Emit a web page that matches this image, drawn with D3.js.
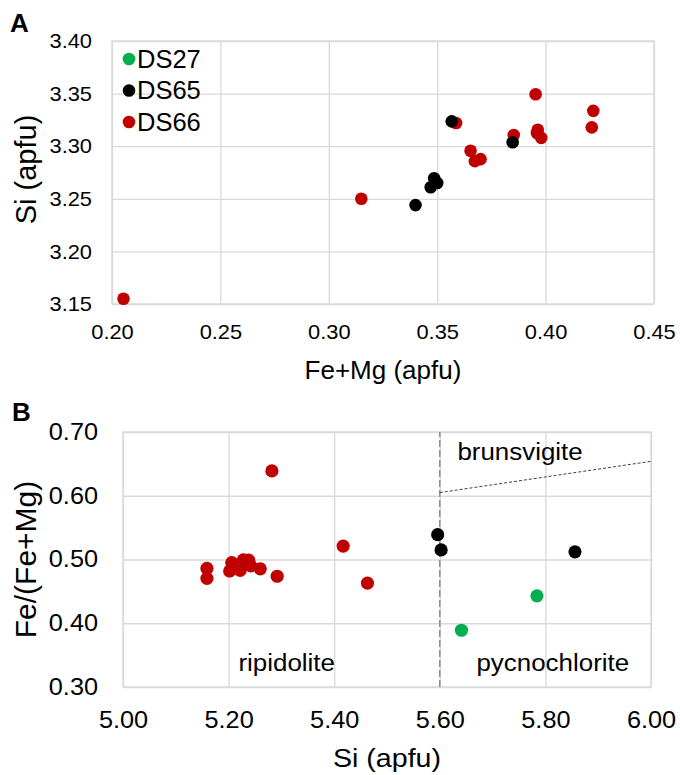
<!DOCTYPE html>
<html>
<head>
<meta charset="utf-8">
<script src="https://d3js.org/d3.v7.min.js"></script>
<style>
  body { margin: 0; background: #fff; }
  text { font-family: "Liberation Sans", Arial, sans-serif; fill: #000; }
</style>
</head>
<body>
<div id="main"></div>
<script>
const ctx = {
    w: 680,
    h: 775,
};

// panel A : Si vs Fe+Mg
const ticksAx = [0.20, 0.25, 0.30, 0.35, 0.40, 0.45];
const ticksAy = [3.15, 3.20, 3.25, 3.30, 3.35, 3.40];
const ds27A = [];
const ds65A = [[0.340, 3.244], [0.347, 3.261], [0.3486, 3.2695], [0.350, 3.265],
               [0.3567, 3.3236], [0.3848, 3.3038]];
const ds66A = [[0.2053, 3.155], [0.315, 3.250], [0.3587, 3.322], [0.3654, 3.2956],
               [0.3674, 3.2858], [0.370, 3.2877], [0.3853, 3.3107], [0.3954, 3.3494],
               [0.3964, 3.3157], [0.396, 3.3126], [0.398, 3.3079], [0.422, 3.3336],
               [0.4213, 3.3179]];

// panel B : Fe/(Fe+Mg) vs Si
const ticksBx = [5.00, 5.20, 5.40, 5.60, 5.80, 6.00];
const ticksBy = [0.30, 0.40, 0.50, 0.60, 0.70];
const ds27B = [[5.641, 0.389], [5.784, 0.443]];
const ds65B = [[5.596, 0.539], [5.6025, 0.515], [5.856, 0.512]];
const ds66B = [[5.282, 0.639], [5.417, 0.521], [5.463, 0.463], [5.159, 0.486],
               [5.159, 0.4705], [5.206, 0.495], [5.202, 0.482], [5.222, 0.483],
               [5.228, 0.4995], [5.238, 0.499], [5.242, 0.490], [5.260, 0.4853],
               [5.292, 0.4737]];
const boundaryV = [[5.60, 0.30], [5.60, 0.70]];
const boundaryS = [[5.60, 0.605], [6.00, 0.654]];
const fieldLabels = ["ripidolite", "pycnochlorite", "brunsvigite"];
const fieldAt = [[5.31, 0.325], [5.814, 0.325], [5.752, 0.656]];

const seriesNames = ["DS27", "DS65", "DS66"];
const color = d3.scaleOrdinal()
                .domain(seriesNames)
                .range(["#00b050", "#000000", "#c00000"]);

// the B panel of the figure is a bit stretched horizontally
function styleTicks(a, fs, sx) {
    a.select(".domain").remove();
    a.selectAll("line").attr("stroke", "#d9d9d9").attr("stroke-width", 1.3);
    a.selectAll("text").attr("fill", "#000")
     .style("font-size", fs + "px")
     .style("font-family", "'Liberation Sans', Arial, sans-serif")
     .attr("transform", `scale(${sx},1)`);
}

function drawFrame(g, x, y, tx, ty, w, h, fs, sx, padX, padY) {
    g.append("g")
     .attr("transform", `translate(0,${h})`)
     .call(d3.axisBottom(x).tickValues(tx).tickSize(-h).tickPadding(padX).tickFormat(d3.format(".2f")))
     .call(a => styleTicks(a, fs, sx));

    g.append("g")
     .call(d3.axisLeft(y).tickValues(ty).tickSize(-w).tickPadding(padY / sx).tickFormat(d3.format(".2f")))
     .call(a => styleTicks(a, fs, sx));

    g.append("rect")
     .attr("width", w).attr("height", h)
     .attr("fill", "none").attr("stroke", "#d9d9d9").attr("stroke-width", 1.3);
}

function drawDots(g, x, y, list, r) {
    // red first, black over it, green last
    [["DS66", list[2]], ["DS65", list[1]], ["DS27", list[0]]].forEach(s => {
        g.selectAll(null)
         .data(s[1])
         .enter().append("circle")
         .attr("cx", d => x(d[0]))
         .attr("cy", d => y(d[1]))
         .attr("r", r)
         .attr("fill", color(s[0]));
    });
}

function createPanelA(svgEl) {
    const m = {left: 112, top: 41}, width = 542, height = 263;
    const x = d3.scaleLinear().domain([0.20, 0.45]).range([0, width]);
    const y = d3.scaleLinear().domain([3.15, 3.40]).range([height, 0]);
    const g = svgEl.append("g").attr("transform", `translate(${m.left},${m.top})`);

    drawFrame(g, x, y, ticksAx, ticksAy, width, height, 21, 1.04, 20, 20);
    drawDots(g, x, y, [ds27A, ds65A, ds66A], 6.3);

    // légende
    seriesNames.forEach((d, i) => {
        const row = g.append("g").attr("transform", `translate(17, ${18 + i * 31.5})`);
        row.append("circle").attr("r", 6.3).attr("fill", color(d));
        row.append("text").attr("x", 8).attr("dy", "0.35em")
           .style("font-size", "25.5px").text(d);
    });

    svgEl.append("text")
         .attr("x", m.left + width / 2).attr("y", 379)
         .attr("text-anchor", "middle").style("font-size", "26px")
         .text("Fe+Mg (apfu)");
    svgEl.append("text")
         .attr("transform", `translate(36, ${m.top + height / 2 - 3}) rotate(-90)`)
         .attr("text-anchor", "middle").style("font-size", "29px")
         .text("Si (apfu)");
    svgEl.append("text")
         .attr("x", 10).attr("y", 32)
         .style("font-size", "26px").style("font-weight", "bold")
         .text("A");
}

function createPanelB(svgEl) {
    const m = {left: 123, top: 432}, width = 528, height = 255;
    const x = d3.scaleLinear().domain([5.0, 6.0]).range([0, width]);
    const y = d3.scaleLinear().domain([0.30, 0.70]).range([height, 0]);
    const g = svgEl.append("g").attr("transform", `translate(${m.left},${m.top})`);

    drawFrame(g, x, y, ticksBx, ticksBy, width, height, 23, 1.1, 25, 25);

    const line = d3.line().x(d => x(d[0])).y(d => y(d[1]));
    g.append("path").attr("d", line(boundaryV))
     .attr("fill", "none").attr("stroke", "#7f7f7f").attr("stroke-width", 1.3)
     .attr("stroke-dasharray", "7,3");
    g.append("path").attr("d", line(boundaryS))
     .attr("fill", "none").attr("stroke", "#404040").attr("stroke-width", 1)
     .attr("stroke-dasharray", "3,2");

    drawDots(g, x, y, [ds27B, ds65B, ds66B], 6.6);

    fieldLabels.forEach((d, i) => {
        g.append("text")
         .attr("transform", `translate(${x(fieldAt[i][0])},${y(fieldAt[i][1])}) scale(1.08,1)`)
         .attr("text-anchor", "middle").style("font-size", "24px")
         .text(d);
    });

    svgEl.append("text")
         .attr("transform", `translate(${m.left + width / 2},767) scale(1.1,1)`)
         .attr("text-anchor", "middle").style("font-size", "26px")
         .text("Si (apfu)");
    svgEl.append("text")
         .attr("transform", `translate(36, ${m.top + height / 2}) rotate(-90)`)
         .attr("text-anchor", "middle").style("font-size", "30px")
         .text("Fe/(Fe+Mg)");
    svgEl.append("text")
         .attr("x", 12).attr("y", 421)
         .style("font-size", "26px").style("font-weight", "bold")
         .text("B");
}

function createViz() {
    const svgEl = d3.select("#main").append("svg")
      .attr("width", ctx.w)
      .attr("height", ctx.h);
    createPanelA(svgEl);
    createPanelB(svgEl);
}

createViz();
</script>
</body>
</html>
